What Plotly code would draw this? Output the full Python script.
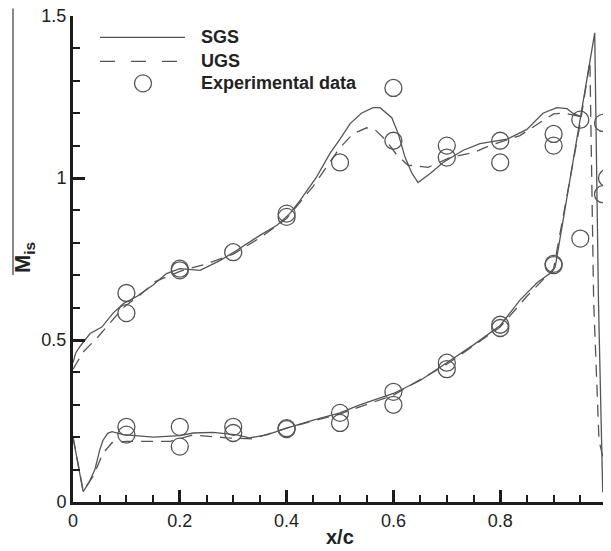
import plotly.graph_objects as go

# SGS (solid) suction side
sgs_up_x = [0.0, 0.005, 0.013, 0.032, 0.054, 0.075, 0.094, 0.12, 0.15, 0.175, 0.2, 0.238, 0.275, 0.307,
            0.35, 0.382, 0.406, 0.425, 0.455, 0.481, 0.5, 0.519, 0.54, 0.562, 0.575, 0.597, 0.609, 0.622,
            0.634, 0.646, 0.669, 0.693, 0.73, 0.762, 0.813, 0.85, 0.88, 0.906, 0.925, 0.936, 0.95]
sgs_up_y = [0.43, 0.46, 0.48, 0.52, 0.54, 0.583, 0.612, 0.635, 0.67, 0.705, 0.72, 0.715, 0.745, 0.777,
            0.823, 0.854, 0.89, 0.93, 1.0, 1.075, 1.12, 1.168, 1.2, 1.217, 1.217, 1.186, 1.137, 1.063,
            1.017, 0.986, 1.014, 1.048, 1.085, 1.106, 1.12, 1.15, 1.2, 1.217, 1.214, 1.2, 1.19]
# SGS pressure side (to the trailing-edge spike)
sgs_lo_x = [0.0, 0.01, 0.019, 0.03, 0.041, 0.05, 0.056, 0.065, 0.073, 0.094, 0.15, 0.2, 0.225, 0.262,
            0.307, 0.33, 0.363, 0.4, 0.45, 0.5, 0.537, 0.6, 0.65, 0.7, 0.75, 0.8, 0.837, 0.87, 0.897,
            0.903, 0.95, 0.977, 0.984, 0.992]
sgs_lo_y = [0.2, 0.11, 0.032, 0.06, 0.1, 0.16, 0.19, 0.212, 0.217, 0.208, 0.2, 0.205, 0.213, 0.215,
            0.207, 0.198, 0.207, 0.228, 0.253, 0.275, 0.3, 0.335, 0.375, 0.43, 0.485, 0.545, 0.623, 0.678,
            0.71, 0.725, 1.19, 1.448, 0.62, 0.03]

# UGS (dashed) suction side
ugs_up_x = [0.0, 0.019, 0.047, 0.094, 0.125, 0.154, 0.2, 0.25, 0.3, 0.35, 0.4, 0.45, 0.5, 0.525, 0.55,
            0.565, 0.584, 0.607, 0.627, 0.665, 0.706, 0.749, 0.781, 0.837, 0.9, 0.92, 0.95]
ugs_up_y = [0.41, 0.463, 0.51, 0.6, 0.638, 0.68, 0.712, 0.735, 0.765, 0.815, 0.875, 0.975, 1.094, 1.137,
            1.155, 1.15, 1.12, 1.07, 1.04, 1.033, 1.063, 1.078, 1.1, 1.131, 1.198, 1.2, 1.19]
# UGS pressure side
ugs_lo_x = [0.0, 0.019, 0.038, 0.056, 0.073, 0.1, 0.131, 0.182, 0.225, 0.288, 0.337, 0.4, 0.5, 0.6, 0.7,
            0.8, 0.85, 0.9, 0.95, 0.968, 0.975, 0.985, 0.995, 1.0]
ugs_lo_y = [0.2, 0.035, 0.08, 0.15, 0.183, 0.187, 0.187, 0.187, 0.207, 0.198, 0.195, 0.228, 0.272, 0.33,
            0.425, 0.54, 0.635, 0.72, 1.17, 1.36, 0.62, 0.19, 0.12, 0.14]

# Experimental data
exp_x = [0.1, 0.1, 0.2, 0.2, 0.3, 0.4, 0.4, 0.5, 0.6, 0.6, 0.7, 0.7, 0.8, 0.8, 0.9, 0.9, 0.95, 0.9925, 1.0, 0.9925,
         0.1, 0.1, 0.2, 0.2, 0.3, 0.3, 0.4, 0.4, 0.5, 0.5, 0.6, 0.6, 0.7, 0.7, 0.8, 0.8, 0.9, 0.9, 0.95]
exp_y = [0.645, 0.583, 0.72, 0.715, 0.771, 0.88, 0.89, 1.048, 1.278, 1.115, 1.10, 1.063, 1.115, 1.048, 1.136, 1.10, 1.18, 1.17, 1.0, 0.95,
         0.232, 0.208, 0.232, 0.171, 0.232, 0.213, 0.228, 0.225, 0.275, 0.244, 0.34, 0.30, 0.43, 0.41, 0.547, 0.537, 0.731, 0.735, 0.813]

x_ticks = [0, 0.2, 0.4, 0.6, 0.8, 1]
x_tick_text = ["0", "0.2", "0.4", "0.6", "0.8", "1"]
y_ticks = [0, 0.5, 1, 1.5]
y_tick_text = ["0", "0.5", "1", "1.5"]

legend_labels = ["SGS", "UGS", "Experimental data"]

LINE = "#555555"
AX = "#1c1c1c"
FONT = "Liberation Sans, Arial, sans-serif"

# The page body adds an 8 px offset, so the figure is 8 px smaller and
# every reference pixel position is shifted by -8.
OFF = 8
W, H = 611 - OFF, 551 - OFF
PL, PR, PT, PB = 73 - OFF, 607 - OFF, 15.5 - OFF, 502.5 - OFF

fig = go.Figure()
for xs, ys in [(sgs_up_x, sgs_up_y), (sgs_lo_x, sgs_lo_y)]:
    fig.add_trace(go.Scatter(x=xs, y=ys, mode="lines", line=dict(color=LINE, width=1.3),
                             showlegend=False))
for xs, ys in [(ugs_up_x, ugs_up_y), (ugs_lo_x, ugs_lo_y)]:
    fig.add_trace(go.Scatter(x=xs, y=ys, mode="lines", line=dict(color=LINE, width=1.3, dash="12px,8px"),
                             showlegend=False))
fig.add_trace(go.Scatter(x=exp_x, y=exp_y, mode="markers", cliponaxis=False,
                         marker=dict(symbol="circle-open", size=17, color=LINE, line=dict(width=1.3, color=LINE)),
                         showlegend=False))


def px2x(p):
    return (p - OFF - PL) / (PR - PL)


def py2y(p):
    return (PB - (p - OFF)) / (PB - PT)


shapes = [
    dict(type="line", xref="paper", yref="paper", x0=px2x(100), x1=px2x(185), y0=py2y(37), y1=py2y(37),
         line=dict(color=LINE, width=1.3)),
    dict(type="line", xref="paper", yref="paper", x0=px2x(100), x1=px2x(178), y0=py2y(61), y1=py2y(61),
         line=dict(color=LINE, width=1.3, dash="15px,16px")),
    dict(type="circle", xref="paper", yref="paper",
         x0=px2x(143 - 8.5), x1=px2x(143 + 8.5), y0=py2y(83 + 8.5), y1=py2y(83 - 8.5),
         line=dict(color=LINE, width=1.3)),
    # overline artifact of the y-axis label
    dict(type="line", xref="paper", yref="paper", x0=px2x(13), x1=px2x(13), y0=py2y(275), y1=py2y(8),
         line=dict(color="#888888", width=2)),
]

annotations = []
for lab, yy in zip(legend_labels, [37, 61, 83]):
    annotations.append(dict(text="<b>%s</b>" % lab, xref="paper", yref="paper", x=px2x(199), y=py2y(yy),
                            xanchor="left", yanchor="middle", showarrow=False,
                            font=dict(family=FONT, size=18, color="#222")))
annotations.append(dict(text="<b>x/c</b>", xref="paper", yref="paper", x=0.5, y=py2y(538),
                        xanchor="center", yanchor="middle", showarrow=False,
                        font=dict(family=FONT, size=20, color="#222")))
annotations.append(dict(text="<b>M<sub>is</sub></b>", xref="paper", yref="paper", x=px2x(24), y=py2y(258),
                        xanchor="center", yanchor="middle", showarrow=False, textangle=-90,
                        font=dict(family=FONT, size=22, color="#222")))

axis_common = dict(showgrid=False, zeroline=False, showline=True, linecolor=AX, linewidth=3,
                   ticks="inside", ticklen=12, tickwidth=3, tickcolor=AX,
                   ticklabeloverflow="allow", tickmode="array",
                   tickfont=dict(family=FONT, size=18, color="#222"))

fig.update_layout(
    width=W, height=H,
    margin=dict(l=PL, r=W - PR, t=PT, b=H - PB, pad=0, autoexpand=False),
    paper_bgcolor="white", plot_bgcolor="white",
    xaxis=dict(range=[0, 1], tickvals=x_ticks, ticktext=x_tick_text,
               minor=dict(dtick=0.05, tick0=0, ticks="inside", ticklen=7, tickwidth=2, tickcolor=AX),
               **axis_common),
    yaxis=dict(range=[0, 1.5], tickvals=y_ticks, ticktext=y_tick_text,
               minor=dict(dtick=0.1, tick0=0, ticks="inside", ticklen=7, tickwidth=2, tickcolor=AX),
               **axis_common),
    shapes=shapes, annotations=annotations,
    showlegend=False,
)
fig.write_html("out.html")
